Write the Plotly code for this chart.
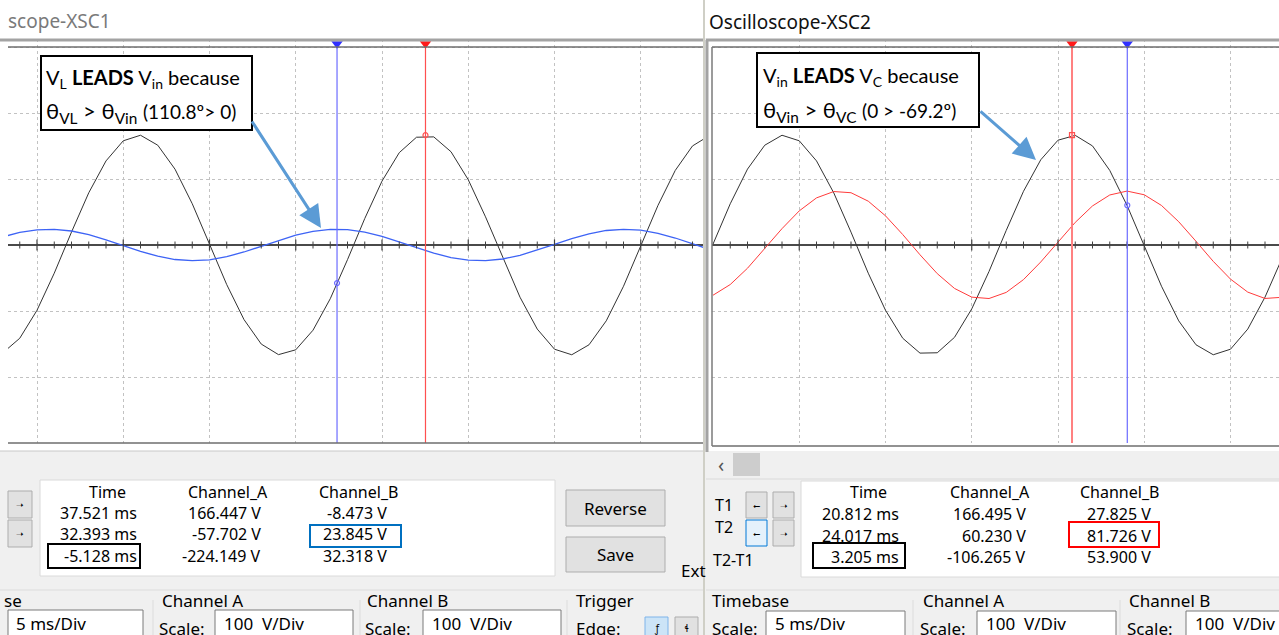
"""Two Multisim oscilloscope screens: VL vs Vin and Vin vs VC."""

import plotly.graph_objects as go

W, H = 1279, 635
GUI_FONT = "Noto Sans"
NOTE_FONT = "Lato"

# scope XSC1: Vin (channel A) and VL (channel B), samples every 1 ms
left_t = list(range(13, 55))
left_vin = [-163.8, -141.3, -98.9, -42.7, 19.6, 79.1, 127.4, 157.9, 166.3, 151.2,
            114.9, 62.5, 1.3, -60.1, -113.0, -150.1, -166.1, -158.8, -129.1, -81.4,
            -22.2, 40.1, 96.8, 139.9, 163.3, 163.8, 141.3, 98.9, 42.7, -19.6,
            -79.1, -127.4, -157.9, -166.3, -151.2, -114.9, -62.5, -1.3, 60.1, 113.0,
            150.1, 166.1]
left_vl = [12.3, 19.0, 23.0, 23.7, 21.2, 15.6, 7.9, -1.0, -9.7, -17.0,
           -22.0, -23.8, -22.4, -17.7, -10.6, -2.0, 6.9, 14.8, 20.6, 23.6,
           23.2, 19.6, 13.2, 5.0, -4.0, -12.3, -19.0, -23.0, -23.7, -21.2,
           -15.6, -7.9, 1.0, 9.7, 17.0, 22.0, 23.8, 22.4, 17.7, 10.6,
           2.0, -6.9]

# scope XSC2: Vin (channel A) and VC (channel B)
right_t = list(range(0, 34))
right_vin = [1.3, 62.5, 115.0, 151.2, 166.3, 157.9, 127.4, 79.0, 19.5, -42.7,
             -98.9, -141.3, -163.8, -163.3, -139.9, -96.8, -40.1, 22.2, 81.4, 129.1,
             158.8, 166.1, 150.1, 113.0, 60.1, -1.3, -62.5, -115.0, -151.2, -166.3,
             -157.9, -127.4, -79.0, -19.5]
right_vc = [-76.1, -59.9, -35.2, -5.6, 24.8, 51.7, 71.4, 81.0, 79.2, 66.4,
            44.2, 15.8, -14.8, -43.4, -65.8, -79.0, -81.1, -71.8, -52.4, -25.7,
            4.6, 34.3, 59.2, 75.8, 81.7, 76.1, 59.9, 35.2, 5.6, -24.8,
            -51.7, -71.4, -81.0, -79.2]

# cursor readouts (T1, T2)
left_cursor_t = [37.521, 32.393]
left_cursor_a = [166.447, -57.702]
right_cursor_t = [20.812, 24.017]
right_cursor_a = [166.495, 60.230]

left_table = {
    "Time": ["37.521 ms", "32.393 ms", "-5.128 ms"],
    "Channel_A": ["166.447 V", "-57.702 V", "-224.149 V"],
    "Channel_B": ["-8.473 V", "23.845 V", "32.318 V"],
}
right_table = {
    "Time": ["20.812 ms", "24.017 ms", "3.205 ms"],
    "Channel_A": ["166.495 V", "60.230 V", "-106.265 V"],
    "Channel_B": ["27.825 V", "81.726 V", "53.900 V"],
}

PX_PER_MS = 17.25
Y_TOP = 312  # a little headroom above +300 V for the cursor flags


def fx(px):
    return px / W


def fy(py):
    return 1 - py / H


shapes = []
notes = []


def rect(x0, y0, x1, y1, fill="rgba(0,0,0,0)", line="#000000", w=1, layer="above"):
    shapes.append(dict(type="rect", xref="paper", yref="paper",
                       x0=fx(x0), x1=fx(x1), y0=fy(y1), y1=fy(y0),
                       fillcolor=fill, line=dict(color=line, width=w), layer=layer))


def seg(x0, y0, x1, y1, color, w=1):
    shapes.append(dict(type="line", xref="paper", yref="paper",
                       x0=fx(x0), x1=fx(x1), y0=fy(y0), y1=fy(y1),
                       line=dict(color=color, width=w)))


def text(x, y, s, size=16, color="#000000", anchor="left", family=GUI_FONT):
    notes.append(dict(xref="paper", yref="paper", x=fx(x), y=fy(y), text=s,
                      showarrow=False, xanchor=anchor, yanchor="middle",
                      font=dict(family=family, size=size, color=color)))


fig = go.Figure()

# waveforms
fig.add_trace(go.Scatter(x=left_t, y=left_vin, mode="lines",
                         line=dict(color="#333333", width=1), xaxis="x", yaxis="y"))
fig.add_trace(go.Scatter(x=left_t, y=left_vl, mode="lines",
                         line=dict(color="#3d63f5", width=1.3), xaxis="x", yaxis="y"))
fig.add_trace(go.Scatter(x=right_t, y=right_vin, mode="lines",
                         line=dict(color="#333333", width=1), xaxis="x2", yaxis="y2"))
fig.add_trace(go.Scatter(x=right_t, y=right_vc, mode="lines",
                         line=dict(color="#ff3b3b", width=1), xaxis="x2", yaxis="y2"))

# center axis tick marks (1 ms minor, 5 ms major)
for xa, ya, t0, t1 in [("x", "y", 14, 54), ("x2", "y2", 1, 33)]:
    minor = [t for t in range(t0, t1) if t % 5]
    major = [t for t in range(t0, t1) if t % 5 == 0]
    fig.add_trace(go.Scatter(x=minor, y=[0] * len(minor), mode="markers",
                             marker=dict(symbol="line-ns", size=5,
                                         line=dict(color="#404040", width=1)),
                             xaxis=xa, yaxis=ya))
    fig.add_trace(go.Scatter(x=major, y=[0] * len(major), mode="markers",
                             marker=dict(symbol="line-ns", size=8,
                                         line=dict(color="#404040", width=1.2)),
                             xaxis=xa, yaxis=ya))

# cursors
cursor_cols = ["#ff5050", "#6b6bff"]
for xa, ya, ts, vals in [("x", "y", left_cursor_t, left_cursor_a),
                         ("x2", "y2", right_cursor_t, right_cursor_a)]:
    for i, (t, v) in enumerate(zip(ts, vals)):
        col = cursor_cols[i]
        wide = xa == "x2" and i == 0
        fig.add_trace(go.Scatter(x=[t, t], y=[-300, 300], mode="lines",
                                 line=dict(color="#ff8080" if wide else col,
                                           width=2 if wide else 1.2),
                                 xaxis=xa, yaxis=ya))
        sym = "square-open" if wide else "circle-open"
        fig.add_trace(go.Scatter(x=[t], y=[v], mode="markers",
                                 marker=dict(symbol=sym, size=5, color=col,
                                             line=dict(color=col, width=1.2)),
                                 xaxis=xa, yaxis=ya))
        fig.add_trace(go.Scatter(x=[t], y=[305], mode="markers",
                                 marker=dict(symbol="triangle-down", size=10,
                                             color="#ff1a1a" if i == 0 else "#3030ff",
                                             line=dict(width=0)),
                                 xaxis=xa, yaxis=ya))

# window backgrounds
rect(0, 0, W, 38, fill="#ffffff", w=0, layer="below")
rect(0, 38, 703, 451, fill="#ffffff", w=0, layer="below")
rect(706, 38, W, 451, fill="#ffffff", w=0, layer="below")

# scope frames
seg(0, 40, 703, 40, "#a3a3a3", 3)
seg(8, 47, 703, 47, "#6e6e6e", 1.5)
seg(8, 443, 703, 443, "#6e6e6e", 1.5)
seg(0, 451, 703, 451, "#c8c8c8", 1)
seg(706, 40, W, 40, "#a3a3a3", 3)
seg(712, 47, W, 47, "#6e6e6e", 1.5)
seg(712, 446, W, 446, "#6e6e6e", 1.5)
seg(707, 40, 707, 452, "#a3a3a3", 3)
seg(712, 47, 712, 446, "#7a7a7a", 1.5)
seg(704, 0, 704, H, "#cfcfc6", 2)

# titles
text(6, 21, "scope-XSC1", size=19, color="#7a7a7a")
text(707, 22, "Oscilloscope-XSC2", size=19, color="#111111")

# explanation boxes
rect(41, 56, 252, 130, fill="#ffffff", line="#000000", w=2)
text(44, 79, "V<sub>L</sub> <b>LEADS</b> V<sub>in</sub> because", size=20, family=NOTE_FONT)
text(44, 112, "θ<sub>VL</sub> > θ<sub>Vin</sub> <span style='font-size:19px'>(110.8º> 0)</span>",
     size=22, family=NOTE_FONT)
rect(757, 53, 979, 127, fill="#ffffff", line="#000000", w=2)
text(761, 77, "V<sub>in</sub> <b>LEADS</b> V<sub>C</sub> because", size=20, family=NOTE_FONT)
text(761, 111, "θ<sub>Vin</sub> > θ<sub>VC</sub> <span style='font-size:19px'>(0 > -69.2º)</span>",
     size=22, family=NOTE_FONT)

for tip, tail in [((321, 228), (251, 120)), ((1036, 160), (979, 110))]:
    notes.append(dict(xref="paper", yref="paper", x=fx(tip[0]), y=fy(tip[1]), text="",
                      showarrow=True, ax=tail[0] - tip[0], ay=tail[1] - tip[1],
                      arrowhead=2, arrowsize=1.5, arrowwidth=3, arrowcolor="#5b9bd5",
                      standoff=0))

# readout tables: headers centred, values right-aligned
rect(40, 480, 555, 576, fill="#ffffff", line="#dadada", w=1)
rect(801, 481, W + 5, 577, fill="#ffffff", line="#dadada", w=1)
for tbl, heads, rights, rows in [
        (left_table, [107, 228, 358], [139, 263, 389], [492, 513, 534, 556]),
        (right_table, [868, 990, 1119], [901, 1028, 1153], [492, 514, 536, 557])]:
    for hx, rx, (name, vals) in zip(heads, rights, tbl.items()):
        text(hx, rows[0], name, anchor="center")
        for ry, v in zip(rows[1:], vals):
            text(rx, ry, v, anchor="right")

rect(48, 544, 140, 568, line="#000000", w=2)
rect(310, 525, 401, 547, line="#0070c0", w=2)
rect(813, 543, 905, 568, line="#000000", w=2)
rect(1069, 522, 1159, 547, line="#ff0000", w=2)

# left cursor buttons
for y0 in (491, 520):
    rect(8, y0, 32, y0 + 27, fill="#e1e1e1", line="#adadad")
    text(20, y0 + 13, "➝", size=9, anchor="center")

# right cursor buttons and labels
text(713, 505, "T1")
text(713, 527, "T2")
text(711, 560, "T2-T1")
for y0 in (492, 520):
    for x0 in (746, 773):
        sel = (x0 == 746 and y0 == 520)
        rect(x0, y0, x0 + 21, y0 + 26, fill="#e5f1fb" if sel else "#e1e1e1",
             line="#0078d7" if sel else "#adadad")
        text(x0 + 10.5, y0 + 13, "➝" if x0 == 773 else "⭠", size=9, anchor="center")

# right scroll bar row
text(716, 464, "‹", size=20, color="#555555")
rect(733, 453, 760, 476, fill="#cdcdcd", w=0)
seg(706, 479, W, 479, "#dadada", 1)

# Reverse / Save buttons
rect(566, 490, 665, 526, fill="#e1e1e1", line="#adadad")
text(615.5, 508, "Reverse", size=17, anchor="center")
rect(566, 537, 665, 572, fill="#e1e1e1", line="#adadad")
text(615.5, 554, "Save", size=17, anchor="center")
text(679, 570, "Ext", size=17)

# lower control rows
for x in (153, 360, 567, 913, 1120):
    seg(x, 600, x, H, "#dcdcdc", 1)
seg(0, 590, 703, 590, "#dcdcdc", 1)
seg(706, 590, W, 590, "#dcdcdc", 1)

text(2, 600, "se", size=17)
rect(8, 610, 143, 642, fill="#ffffff", line="#7a7a7a")
text(14, 623, "5 ms/Div", size=17)
text(160, 600, "Channel A", size=17)
text(157, 628, "Scale:", size=17)
rect(215, 610, 353, 642, fill="#ffffff", line="#7a7a7a")
text(222, 623, "100  V/Div", size=17)
text(365, 600, "Channel B", size=17)
text(363, 628, "Scale:", size=17)
rect(423, 610, 561, 642, fill="#ffffff", line="#7a7a7a")
text(430, 623, "100  V/Div", size=17)
text(574, 600, "Trigger", size=17)
text(574, 628, "Edge:", size=17)
rect(645, 617, 668, 642, fill="#cce4f7", line="#7eb4ea")
text(656.5, 628, "ƒ", size=10, anchor="center")
rect(675, 617, 698, 642, fill="#e1e1e1", line="#adadad")
text(686.5, 628, "ɬ", size=10, anchor="center")

text(710, 600, "Timebase", size=17)
text(710, 628, "Scale:", size=17)
rect(766, 611, 905, 642, fill="#ffffff", line="#7a7a7a")
text(773, 623, "5 ms/Div", size=17)
text(921, 600, "Channel A", size=17)
text(918, 628, "Scale:", size=17)
rect(977, 611, 1116, 642, fill="#ffffff", line="#7a7a7a")
text(984, 623, "100  V/Div", size=17)
text(1127, 600, "Channel B", size=17)
text(1125, 628, "Scale:", size=17)
rect(1186, 611, W + 5, 642, fill="#ffffff", line="#7a7a7a")
text(1193, 623, "100  V/Div", size=17)

grid = dict(showgrid=True, gridcolor="#c2c2c2", griddash="dot", gridwidth=1,
            showticklabels=False, ticks="", showline=False, fixedrange=True)
y_domain = [fy(443), fy(443 - 0.66 * (Y_TOP + 300))]

fig.update_layout(
    width=W,
    height=H,
    margin=dict(l=0, r=0, t=0, b=0),
    paper_bgcolor="#f0f0f0",
    plot_bgcolor="#ffffff",
    showlegend=False,
    hovermode=False,
    xaxis=dict(domain=[fx(8), fx(703)],
               range=[15 - 29 / PX_PER_MS, 15 + 666 / PX_PER_MS],
               dtick=5, tick0=0, zeroline=False, anchor="y", **grid),
    yaxis=dict(domain=y_domain, range=[-300, Y_TOP], dtick=100,
               zeroline=True, zerolinecolor="#4a4a4a", zerolinewidth=1.5,
               anchor="x", **grid),
    xaxis2=dict(domain=[fx(712), 1],
                range=[-1 / PX_PER_MS, 566 / PX_PER_MS],
                dtick=5, tick0=0, zeroline=False, anchor="y2", **grid),
    yaxis2=dict(domain=y_domain, range=[-300, Y_TOP], dtick=100,
                zeroline=True, zerolinecolor="#4a4a4a", zerolinewidth=1.5,
                anchor="x2", **grid),
    shapes=shapes,
    annotations=notes,
)

fig.write_html("out.html",
               config={"displayModeBar": False},
               post_script="document.body.style.margin='0';"
                           "document.body.style.overflow='hidden';")
